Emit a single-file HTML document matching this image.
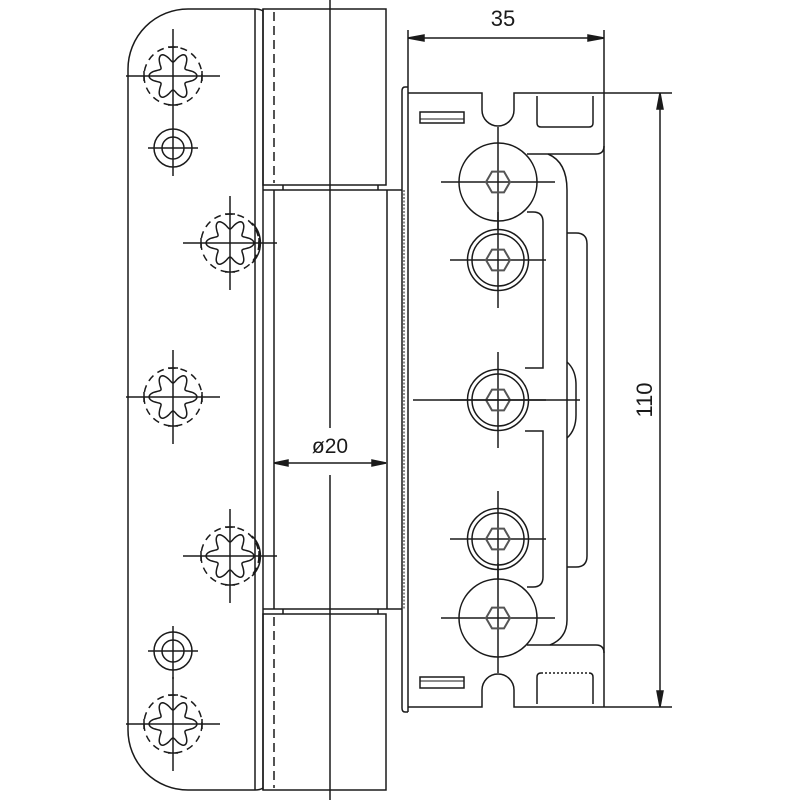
<!DOCTYPE html>
<html><head><meta charset="utf-8"><style>html,body{margin:0;padding:0;background:#fff}svg{display:block}</style></head>
<body>
<svg id="s" width="800" height="800" viewBox="0 0 800 800" xmlns="http://www.w3.org/2000/svg" fill="none" stroke="#1a1a1a" stroke-width="1.5">
<!-- left leaf -->
<path d="M255 9 H188 A60 60 0 0 0 128 69 V730 A60 60 0 0 0 188 790 H255"/>
<line x1="255" y1="9" x2="255" y2="790"/>
<path d="M255 9 Q260 9 263 11"/><path d="M255 790 Q260 790 263 788"/>
<line x1="263" y1="9" x2="263" y2="790"/>
<!-- top knuckle -->
<rect x="263" y="9" width="123" height="176"/>
<line x1="274" y1="12" x2="274" y2="183" stroke-dasharray="9,5"/>
<!-- step -->
<path d="M283 185 V190 M378 185 V190"/>
<!-- middle barrel -->
<path d="M263 190 H402 M274 190 V609 M387 190 V609 M263 609 H402"/>
<path d="M283 609 V614 M378 609 V614"/>
<!-- bottom knuckle -->
<rect x="263" y="614" width="123" height="176"/>
<line x1="274" y1="617" x2="274" y2="788" stroke-dasharray="9,5"/>
<!-- centerline -->
<line x1="330" y1="0" x2="330" y2="428"/><line x1="330" y1="475" x2="330" y2="800"/>
<!-- ø20 -->
<line x1="274" y1="463" x2="386" y2="463"/>
<path d="M274 463 l14 -3 v6z M386 463 l-14 -3 v6z" fill="#1a1a1a"/>
<text x="330" y="453" font-family="Liberation Sans, sans-serif" font-size="21" fill="#1a1a1a" stroke="none" text-anchor="middle">ø20</text>
<!-- right plate -->
<path d="M408 87 H405 Q402 87 402 91 V708 Q402 712 405 712 H408"/>
<line x1="404" y1="190" x2="404" y2="609" stroke-dasharray="2,1.5" stroke-width="1"/>
<path d="M408 30 V712 M408 93 H482 V110 A16 16 0 0 0 514 110 V93 H672"/>
<path d="M408 707 H482 V690 A16 16 0 0 1 514 690 V707 H672"/>
<line x1="604" y1="30" x2="604" y2="707"/>
<path d="M537 96 V123 Q537 127 541 127 H589 Q593 127 593 123 V96"/>
<path d="M537 704 V677 Q537 673 541 673 H589 Q593 673 593 677 V704"/>
<line x1="541" y1="673" x2="589" y2="673" stroke="#fff" stroke-width="2"/>
<line x1="541" y1="673" x2="589" y2="673" stroke-dasharray="2,2"/>
<rect x="420" y="112" width="44" height="11"/><line x1="420" y1="119" x2="464" y2="119" stroke-width="1"/>
<rect x="420" y="677" width="44" height="11"/><line x1="420" y1="681" x2="464" y2="681" stroke-width="1"/>
<!-- contours -->
<path d="M527 154 H596 Q604 154 604 146"/>
<path d="M548 154 Q567 162 567 190 V620 Q567 638 550 645"/>
<path d="M527 645 H596 Q604 645 604 653"/>
<path d="M527 212 H533 Q543 212 543 222 V368 H525"/>
<path d="M525 431 H543 V577 Q543 587 533 587 H527"/>
<path d="M567 233 H576 Q587 233 587 244 V556 Q587 567 576 567 H567"/>
<path d="M567 362 Q576 370 576 385 V415 Q576 430 567 438"/>
<!-- circles -->
<g id="rc"></g>
<!-- dimension 35 -->
<line x1="408" y1="38" x2="604" y2="38"/>
<path d="M408 38 l16 -3 v6z M604 38 l-16 -3 v6z" fill="#1a1a1a"/>
<text x="503" y="26" font-family="Liberation Sans, sans-serif" font-size="22" fill="#1a1a1a" stroke="none" text-anchor="middle">35</text>
<!-- dimension 110 -->
<line x1="660" y1="93" x2="660" y2="707"/>
<path d="M660 93 l-3 16 h6z M660 707 l-3 -16 h6z" fill="#1a1a1a"/>
<text x="0" y="0" transform="translate(652 400) rotate(-90)" font-family="Liberation Sans, sans-serif" font-size="22" fill="#1a1a1a" stroke="none" text-anchor="middle">110</text>
<g id="lc"></g>
</svg>
<script>
var NS="http://www.w3.org/2000/svg";
function el(p,t,a){var e=document.createElementNS(NS,t);for(var k in a)e.setAttribute(k,a[k]);p.appendChild(e);return e;}
var rc=document.getElementById('rc'),lc=document.getElementById('lc');
function hex(g,cx,cy,r){var p=[];for(var i=0;i<6;i++){var a=Math.PI/3*i;p.push((cx+r*Math.cos(a)).toFixed(1)+","+(cy+r*Math.sin(a)).toFixed(1));}el(g,'polygon',{points:p.join(' '),'stroke-width':2,stroke:'#555'});}
function cross(g,cx,cy,h1,h2,v1,v2){el(g,'line',{x1:cx-h1,y1:cy,x2:cx+h2,y2:cy});el(g,'line',{x1:cx,y1:cy-v1,x2:cx,y2:cy+v2});}
var X=498;
[[182,'big'],[260,'dbl'],[400,'dbl'],[539,'dbl'],[618,'big']].forEach(function(c){
 var y=c[0];
 if(c[1]=='big'){el(rc,'circle',{cx:X,cy:y,r:39,fill:'#fff'});cross(rc,X,y,57,57,55,55);}
 else{el(rc,'circle',{cx:X,cy:y,r:30.5,fill:'#fff'});el(rc,'circle',{cx:X,cy:y,r:26});cross(rc,X,y,48,48,48,48);}
 hex(rc,X,y,12);
});
el(rc,'line',{x1:413,y1:400,x2:580,y2:400});
function star(cx,cy){var d="";for(var i=0;i<=120;i++){var t=i/120*2*Math.PI;var r=19+5*Math.cos(6*t);var x=cx+r*Math.cos(t),y=cy+r*Math.sin(t);d+=(i?"L":"M")+x.toFixed(1)+" "+y.toFixed(1);}el(lc,'path',{d:d+"Z"});
 el(lc,'circle',{cx:cx,cy:cy,r:29,'stroke-dasharray':'7,5'});
 el(lc,'line',{x1:cx-47,y1:cy,x2:cx+47,y2:cy});el(lc,'line',{x1:cx,y1:cy-47,x2:cx,y2:cy+47});
 el(lc,'path',{d:"M"+(cx-29)+" "+(cy-5)+"v10 M"+(cx+29)+" "+(cy-5)+"v10 M"+(cx-5)+" "+(cy-29)+"h10 M"+(cx-5)+" "+(cy+29)+"h10"});}
function hole(cx,cy){el(lc,'circle',{cx:cx,cy:cy,r:19});el(lc,'circle',{cx:cx,cy:cy,r:11});el(lc,'line',{x1:cx-25,y1:cy,x2:cx+25,y2:cy});el(lc,'line',{x1:cx,y1:cy-25,x2:cx,y2:cy+28});}
star(173,76);star(230,243);star(173,397);star(230,556);star(173,724);
hole(173,148);hole(173,651);
el(lc,'path',{d:"M252 223 A28 28 0 0 1 252 263 M252 536 A28 28 0 0 1 252 576"});
</script>
</body></html>
